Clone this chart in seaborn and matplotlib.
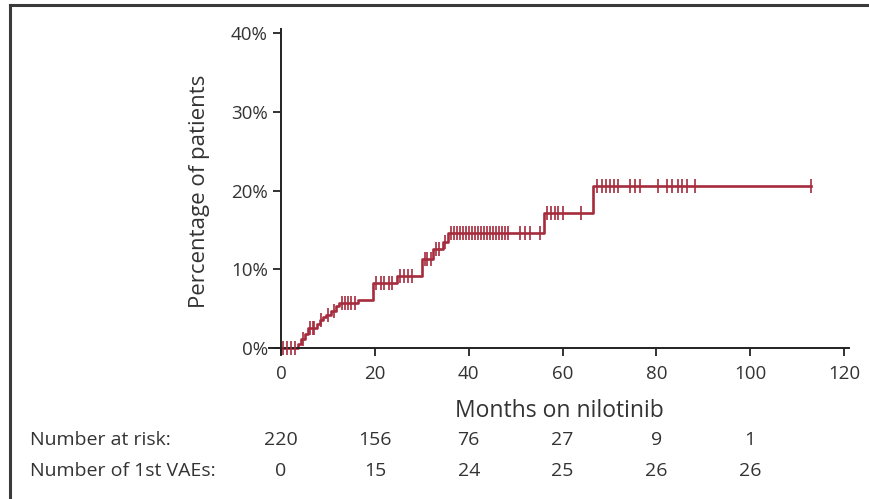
import numpy as np
import pandas as pd
import matplotlib
matplotlib.use('Agg')
from matplotlib import pyplot as plt
from matplotlib.lines import Line2D
import seaborn as sbn

# Cumulative incidence of first VAE (step points)
event_months = [0, 3.6, 4.3, 5.0, 5.7, 7.6, 8.2, 9.0, 9.6, 10.7, 11.7, 12.4, 16.3,
                19.5, 24.7, 30.0, 32.4, 34.5, 35.6, 56.0, 66.5]
event_pct = [0, 0.5, 1.1, 1.8, 2.6, 3.0, 3.5, 3.9, 4.2, 4.7, 5.3, 5.7, 6.1,
             8.3, 9.1, 11.3, 12.6, 13.5, 14.6, 17.1, 20.6]

# Censoring marks (months)
censor_months = [0.4, 1.3, 2.1, 3.0, 4.6, 6.2, 6.8, 7.1, 8.6, 10.1, 11.2, 12.9, 13.6,
                 14.3, 15.0, 15.7, 20.3, 21.2, 22.0, 22.9, 23.7, 25.3, 26.2, 27.0, 27.9,
                 30.6, 31.2, 31.9, 33.0, 33.6, 35.0,
                 36.2, 36.8, 37.5, 38.1, 38.8, 39.4, 40.0, 40.7, 41.3, 41.9, 42.6, 43.2,
                 43.9, 44.5, 45.1, 45.8, 46.4, 47.1, 47.7, 48.4,
                 51.0, 52.0, 53.1, 55.2,
                 56.6, 57.5, 58.3, 59.1, 60.0, 64.0,
                 67.4, 68.3, 69.2, 70.1, 71.0, 71.9, 74.4, 75.4, 76.5, 80.4,
                 82.3, 83.4, 84.5, 85.5, 86.6, 88.3, 113.0]

risk_months = [0, 20, 40, 60, 80, 100]
n_at_risk = ['220', '156', '76', '27', '9', '1']
n_events = ['0', '15', '24', '25', '26', '26']

curve_color = '#a62b3d'
text_color = '#333333'

# step curve table
curve = pd.DataFrame({'month': event_months + [max(censor_months)],
                      'pct': event_pct + [event_pct[-1]]})
idx = np.searchsorted(event_months, censor_months, side='right') - 1
marks = pd.DataFrame({'month': censor_months, 'pct': np.array(event_pct)[idx]})

plt.rcParams['font.family'] = ['Open Sans', 'DejaVu Sans']

fig = plt.figure(figsize=(8.69, 4.99), dpi=100)
ax = fig.add_axes([0.310, 0.290, 0.6667, 0.6517])

sbn.lineplot(x='month', y='pct', data=curve, ax=ax, color=curve_color,
             linewidth=1.9, drawstyle='steps-post', estimator=None)
sbn.scatterplot(x='month', y='pct', data=marks, ax=ax, color=curve_color,
                marker='|', s=90, linewidth=1.2, zorder=3)

ax.set_xlim(-2.5, 121)
ax.set_ylim(-0.8, 40.5)
ax.set_xticks([0, 20, 40, 60, 80, 100, 120])
ax.set_yticks([0, 10, 20, 30, 40])
ax.set_yticklabels(['0%', '10%', '20%', '30%', '40%'])
ax.spines['left'].set_position(('data', 0))
ax.spines['bottom'].set_position(('data', 0))
for s in ['top', 'right']:
    ax.spines[s].set_visible(False)
for s in ['left', 'bottom']:
    ax.spines[s].set_linewidth(1.4)
    ax.spines[s].set_color('#222222')
ax.tick_params(direction='out', length=6, width=1.3, labelsize=13.5, colors='#222222',
               labelcolor=text_color)
ax.tick_params(axis='x', pad=6)
ax.set_xlabel('Months on nilotinib', fontsize=16.5, color=text_color, labelpad=12)
ax.set_ylabel('Percentage of patients', fontsize=16, color=text_color, labelpad=15)

# risk table under the x axis
trans = matplotlib.transforms.blended_transform_factory(ax.transData, fig.transFigure)
fig.text(30 / 869, 1 - 440 / 499, 'Number at risk:', fontsize=14, color=text_color,
         va='center', ha='left')
fig.text(30 / 869, 1 - 471 / 499, 'Number of 1st VAEs:', fontsize=14, color=text_color,
         va='center', ha='left')
for m, r, e in zip(risk_months, n_at_risk, n_events):
    ax.text(m, 1 - 440 / 499, r, transform=trans, fontsize=14, color=text_color,
            ha='center', va='center')
    ax.text(m, 1 - 471 / 499, e, transform=trans, fontsize=14, color=text_color,
            ha='center', va='center')

# frame lines at top and left of the image
fig.add_artist(Line2D([10 / 869, 1], [1 - 5 / 499, 1 - 5 / 499], transform=fig.transFigure,
                      color='#3a3a3a', linewidth=2.2))
fig.add_artist(Line2D([10 / 869, 10 / 869], [0, 1 - 5 / 499], transform=fig.transFigure,
                      color='#3a3a3a', linewidth=2.2))

fig.savefig('out.png', dpi=100)
